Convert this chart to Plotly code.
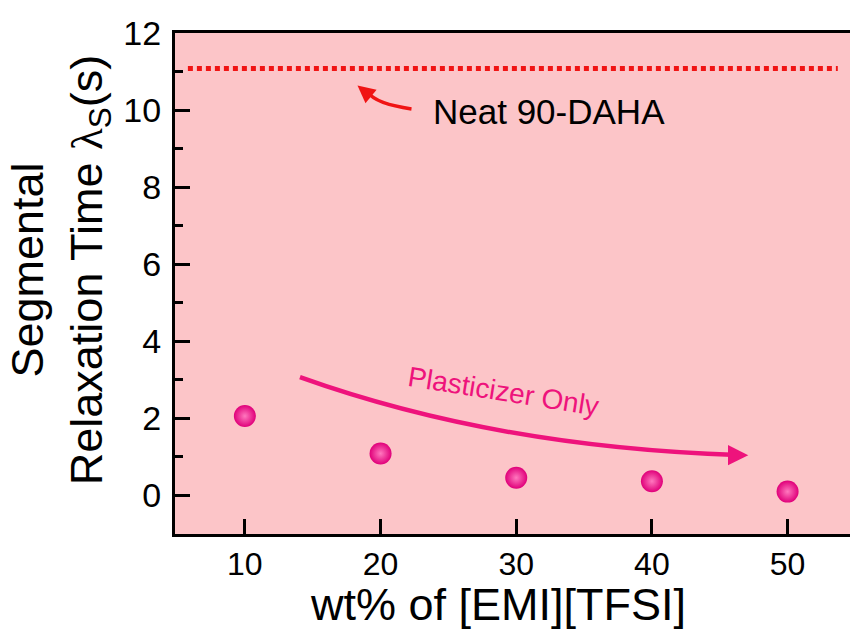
import plotly.graph_objects as go

# ---- data ----
wt_pct = [10, 20, 30, 40, 50]
lambda_s = [2.06, 1.09, 0.46, 0.37, 0.10]
neat_lambda = 11.08
neat_x_span = [5.8, 53.7]
x_ticks = [10, 20, 30, 40, 50]
y_ticks = [0, 2, 4, 6, 8, 10, 12]

FONT = "Liberation Sans, Arial, sans-serif"
BG = "#FCC5C8"
PINK = "#EE137C"
RED = "#F01414"

fig = go.Figure()

fig.add_trace(go.Scatter(
    x=neat_x_span, y=[neat_lambda, neat_lambda], mode="lines",
    line=dict(color=RED, width=5, dash="5px,4px"), hoverinfo="skip", showlegend=False))

fig.add_trace(go.Scatter(
    x=wt_pct, y=lambda_s, mode="markers",
    marker=dict(size=22, color="#E0007A",
                gradient=dict(type="radial", color="#FF78BE"),
                line=dict(width=0)),
    showlegend=False))

# curved arrows (annotation graphics)
fig.add_shape(type="path", xref="x", yref="y",
              path="M 14.06 3.07 Q 28.5 1.25 46.3 1.05",
              line=dict(color=PINK, width=4.5))
fig.add_annotation(x=47.1, y=1.045, xref="x", yref="y", ax=-16, ay=0,
                   showarrow=True, arrowhead=2, arrowsize=0.9, arrowwidth=4.5,
                   arrowcolor=PINK, text="")
fig.add_shape(type="path", xref="x", yref="y",
              path="M 22.28 10.03 Q 19.67 10.155 19.06 10.46",
              line=dict(color=RED, width=3.5))
fig.add_annotation(x=18.3, y=10.64, xref="x", yref="y", ax=11, ay=9,
                   showarrow=True, arrowhead=2, arrowsize=1, arrowwidth=3.5,
                   arrowcolor=RED, text="")

fig.add_annotation(x=32.45, y=9.97, xref="x", yref="y", text="Neat 90-DAHA",
                   showarrow=False, font=dict(family=FONT, size=35, color="black"))
fig.add_annotation(x=29.09, y=2.71, xref="x", yref="y", text="Plasticizer Only",
                   showarrow=False, textangle=9,
                   font=dict(family=FONT, size=28, color=PINK))

# axis titles
fig.add_annotation(x=-0.170, y=0.527, xref="paper", yref="paper",
                   text="Segmental<br>Relaxation Time <span style='font-family:Liberation Serif'>λ</span><sub>S</sub>(s)",
                   showarrow=False, textangle=-90, xanchor="center", yanchor="middle",
                   font=dict(family=FONT, size=45, color="black"))
fig.add_annotation(x=0.479, y=-0.141, xref="paper", yref="paper",
                   text="wt% of [EMI][TFSI]", showarrow=False,
                   xanchor="center", yanchor="middle",
                   font=dict(family=FONT, size=45, color="black"))

fig.update_layout(
    width=850, height=633,
    margin=dict(l=175, r=0, t=33, b=99),
    paper_bgcolor="white", plot_bgcolor=BG,
    font=dict(family=FONT, color="black"),
)
fig.update_xaxes(range=[4.85, 54.6], tickvals=x_ticks, ticks="inside", ticklen=15,
                 tickwidth=2.5, tickcolor="black", showline=True, linewidth=3,
                 linecolor="black", mirror=True, showgrid=False, zeroline=False,
                 tickfont=dict(size=32, family=FONT), ticklabelstandoff=0)
fig.update_yaxes(range=[-1, 12], tickvals=y_ticks, ticks="inside", ticklen=15,
                 tickwidth=2.5, tickcolor="black", showline=True, linewidth=3,
                 linecolor="black", mirror=False, showgrid=False, zeroline=False,
                 tickfont=dict(size=34, family=FONT), ticklabelstandoff=4,
                 minor=dict(tickvals=[-1, 1, 3, 5, 7, 9, 11], ticks="inside", ticklen=8,
                            tickwidth=2.5, tickcolor="black"))

fig.write_html("out.html")
